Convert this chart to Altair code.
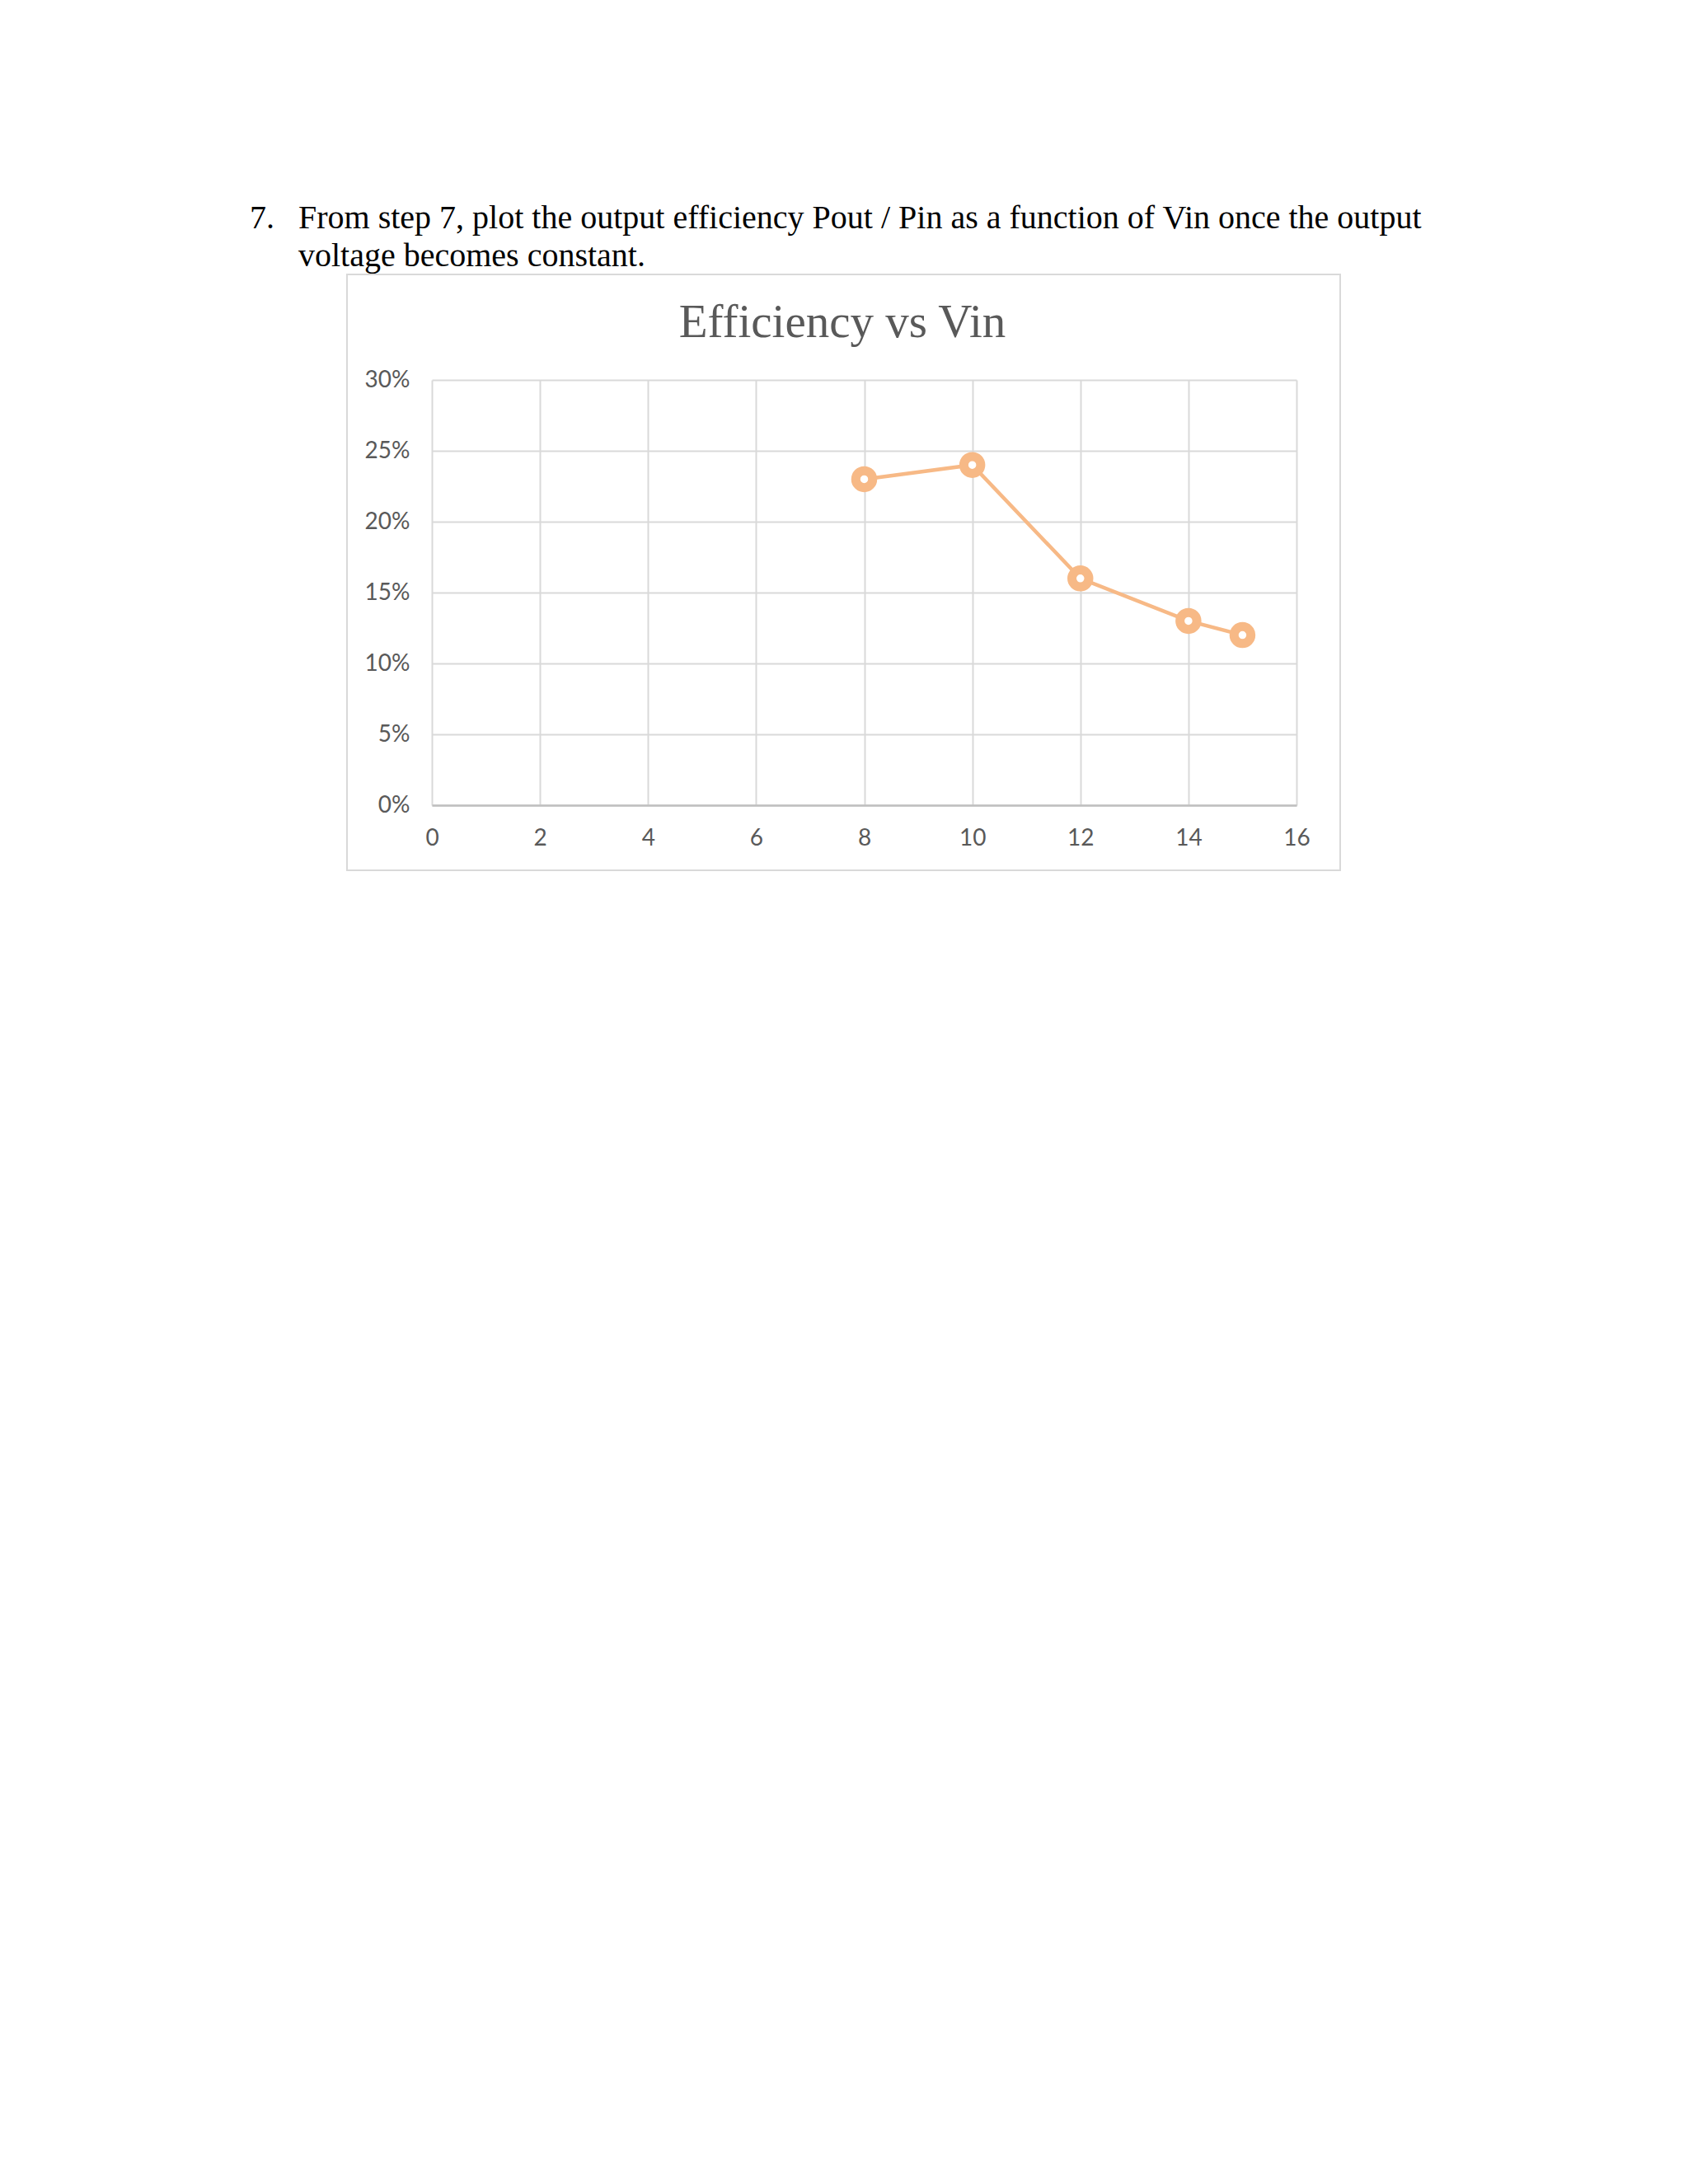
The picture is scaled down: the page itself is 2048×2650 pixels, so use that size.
import altair as alt
import pandas as pd

# data
vin = [8, 10, 12, 14, 15]
efficiency = [0.23, 0.24, 0.16, 0.13, 0.12]
x_ticks = [0, 2, 4, 6, 8, 10, 12, 14, 16]
y_ticks = [0, 0.05, 0.10, 0.15, 0.20, 0.25, 0.30]

header_number = ["7."]
header_lines = [
    "From step 7, plot the output efficiency Pout / Pin as a function of Vin once the output",
    "voltage becomes constant.",
]
chart_title = ["Efficiency vs Vin"]

ORANGE = "#F7B986"
GRID = "#D9D9D9"
LABEL = "#595959"

df = pd.DataFrame({"vin": vin, "eff": efficiency})

x_enc = alt.X(
    "vin:Q",
    scale=alt.Scale(domain=[0, 16], nice=False, zero=False),
    axis=alt.Axis(
        values=x_ticks, format="d", title=None, grid=True, gridColor=GRID, gridWidth=2,
        ticks=False, tickSize=0, domain=True, domainColor="#BFBFBF", domainWidth=2.5,
        labelFont="Lato", labelFontSize=28, labelColor=LABEL, labelAngle=0,
        labelBaseline="middle", labelPadding=40, labelFlush=False,
    ),
)
y_enc = alt.Y(
    "eff:Q",
    scale=alt.Scale(domain=[0, 0.3], nice=False),
    axis=alt.Axis(
        values=y_ticks, format=".0%", title=None, grid=True, gridColor=GRID, gridWidth=2,
        ticks=False, tickSize=0, domain=False,
        labelFont="Lato", labelFontSize=28, labelColor=LABEL,
        labelBaseline="middle", labelPadding=27, labelFlush=False,
    ),
)

frame = alt.Chart(pd.DataFrame({"k": [0]})).mark_rect(
    fillOpacity=0, stroke=GRID, strokeWidth=2
).encode(
    x=alt.value(-103), x2=alt.value(1102), y=alt.value(-128), y2=alt.value(595)
)

line = alt.Chart(df).mark_line(color=ORANGE, strokeWidth=4.5).encode(x=x_enc, y=y_enc)
points = alt.Chart(df).mark_point(
    shape="circle", filled=True, fill="white", stroke=ORANGE, strokeWidth=11,
    size=420, opacity=1, fillOpacity=1,
).encode(x="vin:Q", y="eff:Q")

title_txt = alt.Chart(pd.DataFrame({"t": chart_title})).mark_text(
    font="Liberation Serif", fontSize=57, color=LABEL, align="center", baseline="alphabetic"
).encode(text="t:N", x=alt.value(498), y=alt.value(-52))

num_txt = alt.Chart(pd.DataFrame({"t": header_number})).mark_text(
    font="Liberation Serif", fontSize=40, color="black", align="left", baseline="alphabetic"
).encode(text="t:N", x=alt.value(-221), y=alt.value(-184))

line1_txt = alt.Chart(pd.DataFrame({"t": [header_lines[0]]})).mark_text(
    font="Liberation Serif", fontSize=40, color="black", align="left", baseline="alphabetic"
).encode(text="t:N", x=alt.value(-162), y=alt.value(-184))

line2_txt = alt.Chart(pd.DataFrame({"t": [header_lines[1]]})).mark_text(
    font="Liberation Serif", fontSize=40, color="black", align="left", baseline="alphabetic"
).encode(text="t:N", x=alt.value(-162), y=alt.value(-138))

chart = alt.layer(
    frame, line, points, title_txt, num_txt, line1_txt, line2_txt
).properties(
    width=1049, height=516,
    autosize=alt.AutoSizeParams(type="none"),
    padding={"left": 516, "top": 453, "right": 400, "bottom": 100},
    background="white",
).configure_view(strokeWidth=0)

chart.save("out.html", embed_options={"renderer": "svg", "actions": False})
